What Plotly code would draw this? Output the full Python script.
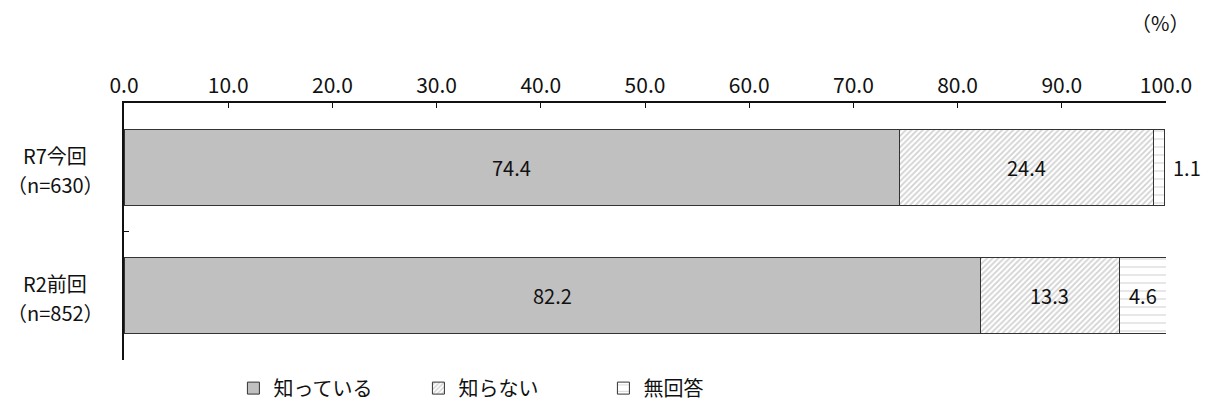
import plotly.graph_objects as go

categories = ["R7今回<br>（n=630）", "R2前回<br>（n=852）"]
series_names = ["知っている", "知らない", "無回答"]
known = [74.4, 82.2]
unknown = [24.4, 13.3]
no_answer = [1.1, 4.6]
x_ticks = [0, 10, 20, 30, 40, 50, 60, 70, 80, 90, 100]

FONT = "Noto Sans CJK JP"
values = [known, unknown, no_answer]
fills = [
    dict(color="#c0c0c0"),
    dict(color="white", pattern=dict(shape="/", fgcolor="#a4a4a4", bgcolor="white", size=4, solidity=0.45)),
    dict(color="white", pattern=dict(shape="-", fgcolor="#9a9a9a", bgcolor="white", size=8, solidity=0.12)),
]

fig = go.Figure()
for name, vals, fill in zip(series_names, values, fills):
    fig.add_trace(go.Bar(
        y=categories, x=vals, name=name, orientation="h",
        marker=dict(**fill, line=dict(color="#333333", width=1)),
        width=0.59,
    ))

annotations = []
for ci, cat in enumerate(categories):
    start = 0.0
    for vals in values:
        v = vals[ci]
        end = start + v
        if v < 2:
            annotations.append(dict(x=end, y=cat, xref="x", yref="y", text=f"{v:.1f}",
                                    showarrow=False, xanchor="left", xshift=6,
                                    font=dict(family=FONT, size=20, color="#111")))
        else:
            annotations.append(dict(x=start + v / 2, y=cat, xref="x", yref="y", text=f"{v:.1f}",
                                    showarrow=False, font=dict(family=FONT, size=20, color="#111")))
        start = end
    lines = cat.split("<br>")
    for li, line in enumerate(lines):
        annotations.append(dict(x=-0.066, y=cat, xref="paper", yref="y", text=line, showarrow=False,
                                xanchor="center", yanchor="middle", yshift=12 - li * 29,
                                font=dict(family=FONT, size=20, color="#111")))

annotations.append(dict(x=0.994, y=1.315, xref="paper", yref="paper", text="（%）", showarrow=False,
                        xanchor="center", yanchor="middle",
                        font=dict(family=FONT, size=20, color="#111")))

fig.update_layout(
    barmode="stack",
    width=1208, height=412,
    margin=dict(l=124, r=42, t=103, b=52, autoexpand=False),
    plot_bgcolor="white", paper_bgcolor="white",
    font=dict(family=FONT, size=18, color="#111"),
    showlegend=True,
    legend=dict(orientation="h", x=0.105, xanchor="left", yref="container", y=0.058, yanchor="middle",
                font=dict(family=FONT, size=20, color="#111"),
                entrywidth=140, traceorder="normal"),
    annotations=annotations,
    xaxis=dict(range=[0, 100], side="top", tickvals=x_ticks, tickformat=".1f", automargin=False,
               ticks="inside", ticklen=5, tickcolor="#111", showgrid=False, zeroline=False,
               showline=True, linecolor="#111", linewidth=1.5,
               tickfont=dict(family=FONT, size=21, color="#111")),
    yaxis=dict(autorange="reversed", showticklabels=False, ticks="inside", tickson="boundaries",
               automargin=False,
               ticklen=5, tickcolor="#111", showgrid=False, zeroline=False,
               showline=True, linecolor="#111", linewidth=1.5),
)

fig.write_html("out.html", config={"displayModeBar": False},
               post_script="document.body.style.margin='0';")
